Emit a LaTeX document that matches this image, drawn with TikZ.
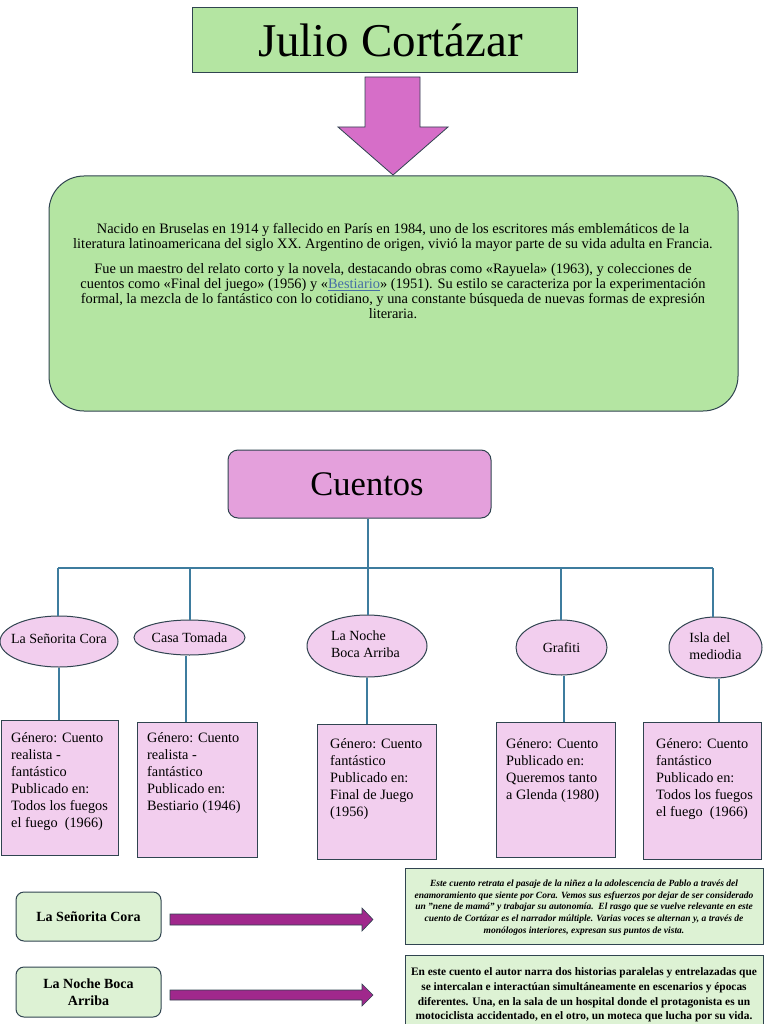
\documentclass[tikz,border=0pt]{standalone}
\usepackage{fontspec}
\setmainfont{Liberation Serif}
\usetikzlibrary{shapes.geometric}
\definecolor{titlegreen}{RGB}{180,229,162}
\definecolor{bordergray}{RGB}{48,68,80}
\definecolor{arrowpink}{RGB}{214,110,200}
\definecolor{cuentospink}{RGB}{228,160,220}
\definecolor{lightpink}{RGB}{242,206,238}
\definecolor{palegreen}{RGB}{221,242,212}
\definecolor{linkblue}{RGB}{62,124,158}
\definecolor{arrowpurple}{RGB}{160,40,140}
\definecolor{hyperlink}{RGB}{70,110,165}
\newcommand\zerowd[1]{\makebox[0pt]{#1}}
\begin{document}
\begin{tikzpicture}[x=1pt,y=-1pt,
  titlebox/.style={draw=bordergray, fill=titlegreen, line width=1pt, minimum width=385, minimum height=65, inner sep=0, font=\fontsize{47}{50}\selectfont},
  blockarrow/.style={draw=bordergray, fill=arrowpink, line width=0.8pt, line join=miter},
  bigbox/.style={draw=bordergray, fill=titlegreen, line width=1pt, rounded corners=35, minimum width=689, minimum height=235, inner sep=0},
  biotext/.style={align=center, inner sep=0, font=\fontsize{14.4}{15}\selectfont},
  cuentosbox/.style={draw=bordergray, fill=cuentospink, line width=1pt, rounded corners=10, minimum width=263, minimum height=68, inner sep=0, font=\fontsize{34.5}{36}\selectfont},
  conn/.style={draw=linkblue, line width=1.2pt},
  story/.style={ellipse, draw=bordergray, fill=lightpink, line width=1pt, inner sep=0, font=\fontsize{14}{17}\selectfont},
  infobox/.style={draw=bordergray, fill=lightpink, line width=1.2pt, anchor=north west, inner sep=0},
  infotext/.style={anchor=north west, align=left, inner sep=0, font=\fontsize{14.3}{17}\selectfont},
  tagbox/.style={draw=bordergray, fill=palegreen, line width=1pt, rounded corners=8, minimum width=145, minimum height=49, inner sep=0, align=center, font=\bfseries\fontsize{14}{17}\selectfont},
  notebox/.style={draw=bordergray, fill=palegreen, line width=1.4pt, anchor=north west, inner sep=0},
  purplearrow/.style={draw=bordergray, fill=arrowpurple, line width=0.6pt, line join=miter}
]
\useasboundingbox (0,0) rectangle (768,1024);
\fill[white] (0,0) rectangle (768,1024);

% title and arrow
\node[titlebox] (title) at (384.5,40.5) {\hspace*{12pt}Julio Cortázar};
\draw[blockarrow] (365,77) -- (420,77) -- (420,127) -- (448,127) -- (393,175) -- (338,127) -- (365,127) -- cycle;

% biography box
\node[bigbox] (bio) at (393.5,293.5) {};
\node[biotext] (biotxt) at (393,271) {Nacido en Bruselas en 1914 y fallecido en París en 1984, uno de los escritores más emblemáticos de la\\
literatura latinoamericana del siglo XX. Argentino de origen, vivió la mayor parte de su vida adulta en Francia.\\[10pt]
Fue un maestro del relato corto y la novela, destacando obras como «Rayuela» (1963), y colecciones de\\
cuentos como «Final del juego» (1956) y «{\color{hyperlink}\underline{Bestiario}}» (1951). Su estilo se caracteriza por la experimentación\\
formal, la mezcla de lo fantástico con lo cotidiano, y una constante búsqueda de nuevas formas de expresión\\
literaria.};

% Cuentos
\node[cuentosbox] (cu) at (359.5,484) {\hspace*{15pt}Cuentos};

% stories
\node[story, minimum width=118, minimum height=51] (e1) at (59,641.5) {\zerowd{\raisebox{5pt}{La Señorita Cora}}};
\node[story, minimum width=111, minimum height=35] (e2) at (189.5,637.5) {\zerowd{Casa Tomada}};
\node[story, minimum width=120, minimum height=62] (e3) at (367,646) {\zerowd{\hspace*{-3pt}\begin{tabular}{@{}l@{}}La Noche\\Boca Arriba\end{tabular}}};
\node[story, minimum width=91, minimum height=55] (e4) at (561.5,647.5) {\zerowd{Grafiti}};
\node[story, minimum width=93, minimum height=61] (e5) at (715.5,647.5) {\zerowd{\begin{tabular}{@{}l@{}}Isla del\\mediodia\end{tabular}}};

% tree connectors
\coordinate (j1) at (58,568);
\coordinate (j2) at (190,568);
\coordinate (j3) at (368,568);
\coordinate (j4) at (561,568);
\coordinate (j5) at (713,568);
\draw[conn] (j3 |- cu.south) -- (j3);
\draw[conn] (j1) -- (j5);
\draw[conn] (j1) -- (j1 |- e1.north);
\draw[conn] (j2) -- (j2 |- e2.north);
\draw[conn] (j3) -- (j3 |- e3.north);
\draw[conn] (j4) -- (j4 |- e4.north);
\draw[conn] (j5) -- (j5 |- e5.north);

% info boxes
\node[infobox, minimum width=117, minimum height=135] (b1) at (1,720) {};
\node[infobox, minimum width=120, minimum height=135] (b2) at (137,722) {};
\node[infobox, minimum width=119, minimum height=135] (b3) at (317,724) {};
\node[infobox, minimum width=119, minimum height=135] (b4) at (496,722) {};
\node[infobox, minimum width=118, minimum height=137] (b5) at (643,722) {};

\draw[conn] (e1.south) -- (e1.south |- b1.north);
\draw[conn] (186,0 |- e2.south) -- (186,0 |- b2.north);
\draw[conn] (e3.south) -- (e3.south |- b3.north);
\draw[conn] (564,0 |- e4.south) -- (564,0 |- b4.north);
\draw[conn] (719,0 |- e5.south) -- (719,0 |- b5.north);

\node[infotext] (t1) at (11,732) {Género: Cuento\\realista -\\fantástico\\Publicado en:\\Todos los fuegos\\el fuego\ \ (1966)};
\node[infotext] (t2) at (147,732) {Género: Cuento\\realista -\\fantástico\\Publicado en:\\Bestiario (1946)};
\node[infotext] (t3) at (330,738) {Género: Cuento\\fantástico\\Publicado en:\\Final de Juego\\(1956)};
\node[infotext] (t4) at (506,738) {Género: Cuento\\Publicado en:\\Queremos tanto\\a Glenda (1980)};
\node[infotext] (t5) at (656,738) {Género: Cuento\\fantástico\\Publicado en:\\Todos los fuegos\\el fuego\ \ (1966)};

% bottom section
\node[tagbox] (lg1) at (88.5,916.5) {La Señorita Cora};
\node[tagbox, minimum height=50] (lg2) at (88.5,992) {La Noche Boca\\Arriba};

\node[notebox, minimum width=358, minimum height=76] (rg1) at (405,868) {};
\node[notebox, minimum width=358, minimum height=90] (rg2) at (405,955) {};

\node[align=center, inner sep=0, font=\bfseries\itshape\fontsize{9.5}{11.7}\selectfont] (rg1t) at (584,907.5) {Este cuento retrata el pasaje de la niñez a la adolescencia de Pablo a través del\\
enamoramiento que siente por Cora. Vemos sus esfuerzos por dejar de ser considerado\\
un "nene de mamá" y trabajar su autonomía.\ \ El rasgo que se vuelve relevante en este\\
cuento de Cortázar es el narrador múltiple. Varias voces se alternan y, a través de\\
monólogos interiores, expresan sus puntos de vista.};

\node[align=center, inner sep=0, font=\bfseries\fontsize{11.4}{14.7}\selectfont] (rg2t) at (584,995) {En este cuento el autor narra dos historias paralelas y entrelazadas que\\
se intercalan e interactúan simultáneamente en escenarios y épocas\\
diferentes. Una, en la sala de un hospital donde el protagonista es un\\
motociclista accidentado, en el otro, un moteca que lucha por su vida.};

\draw[purplearrow] (170,914) -- (362,914) -- (362,908) -- (373,919.5) -- (362,931) -- (362,925) -- (170,925) -- cycle;
\draw[purplearrow] (170,990) -- (362,990) -- (362,984) -- (373,995) -- (362,1006) -- (362,1000) -- (170,1000) -- cycle;
\end{tikzpicture}
\end{document}
